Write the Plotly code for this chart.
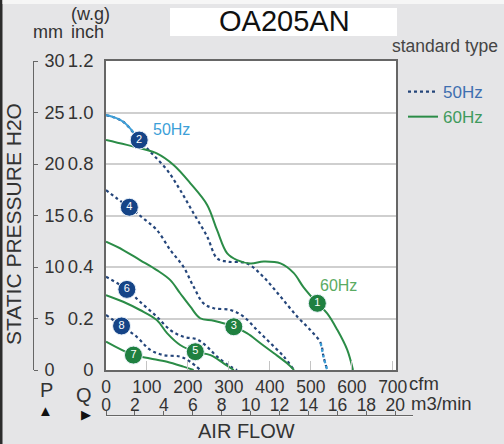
import plotly.graph_objects as go

W, H = 504, 444

# ---------------- data ----------------
cfm_ticks = [0, 100, 200, 300, 400, 500, 600, 700]
m3_ticks = [0, 2, 4, 6, 8, 10, 12, 14, 16, 18, 20]
inch_ticks = [0, 0.2, 0.4, 0.6, 0.8, 1.0, 1.2]
inch_labels = ["0", "0.2", "0.4", "0.6", "0.8", "1.0", "1.2"]
mm_ticks = [0, 5, 10, 15, 20, 25, 30]
CFM_PER_M3MIN = 35.3147

# 50Hz curves (cfm, inch w.g.)
c2_x = [0, 42, 81, 112, 149, 181, 214, 247, 271, 296, 344, 384, 426, 467, 499, 524, 531, 540]
c2_y = [0.99, 0.964, 0.893, 0.841, 0.777, 0.699, 0.608, 0.518, 0.434, 0.421, 0.414, 0.362, 0.285, 0.207, 0.155, 0.105, 0.052, 0]
c4_x = [0, 26, 57, 91, 124, 157, 189, 214, 238, 263, 304, 336, 369, 401, 434, 459]
c4_y = [0.699, 0.667, 0.632, 0.589, 0.544, 0.466, 0.401, 0.323, 0.259, 0.240, 0.233, 0.207, 0.155, 0.105, 0.052, 0]
c6_x = [0, 51, 83, 124, 157, 189, 222, 247, 271, 304, 320]
c6_y = [0.362, 0.313, 0.265, 0.207, 0.155, 0.129, 0.119, 0.090, 0.052, 0.013, 0]
c8_x = [0, 38, 75, 108, 140, 181, 206, 230]
c8_y = [0.214, 0.171, 0.129, 0.078, 0.058, 0.052, 0.032, 0]

# 60Hz curves
c1_x = [0, 83, 124, 165, 206, 247, 271, 296, 320, 353, 385, 426, 458, 482, 516, 540, 565, 589, 603]
c1_y = [0.893, 0.861, 0.841, 0.796, 0.725, 0.641, 0.544, 0.453, 0.427, 0.414, 0.421, 0.414, 0.377, 0.322, 0.259, 0.220, 0.155, 0.078, 0]
c3_x = [0, 42, 83, 124, 157, 181, 206, 230, 263, 312, 344, 377, 410, 442, 459]
c3_y = [0.498, 0.466, 0.427, 0.388, 0.349, 0.298, 0.246, 0.201, 0.191, 0.168, 0.143, 0.104, 0.065, 0.026, 0]
c5_x = [0, 42, 83, 124, 149, 181, 218, 255, 287, 312]
c5_y = [0.291, 0.265, 0.233, 0.194, 0.143, 0.097, 0.071, 0.058, 0.026, 0]
c7_x = [0, 67, 108, 149, 189, 214]
c7_y = [0.110, 0.058, 0.045, 0.032, 0.013, 0]

# numbered badges on the curves
badge_text = ["1", "2", "3", "4", "5", "6", "7", "8"]
badge_x = [516, 81, 312, 57, 218, 51, 67, 38]
badge_y = [0.259, 0.893, 0.168, 0.632, 0.071, 0.313, 0.058, 0.171]

# ---------------- styles ----------------
GREEN = "#2b8c47"
NAVY = "#24457a"
LBLUE = "#3d9fd8"
BADGE_GREEN = "#1f8040"
BADGE_NAVY = "#154487"
FONT = "Arial, 'Liberation Sans', sans-serif"
TXT = "#333333"
XMAX = 708


def fx(p):
    return p / W


def fy(p):
    return 1 - p / H


fig = go.Figure()

dot = dict(color=NAVY, width=2.2, dash="dot")
sol = dict(color=GREEN, width=2)

# 50Hz dotted curves
fig.add_trace(go.Scatter(x=c2_x, y=c2_y, mode="lines", line=dot, line_shape="spline",
                         name="<span style='color:#3f6fb0'>50Hz</span>", legendgroup="a",
                         showlegend=True, hoverinfo="skip"))
k0 = c2_x.index(81)
fig.add_trace(go.Scatter(x=c2_x[:k0 + 1], y=c2_y[:k0 + 1], mode="lines", line_shape="spline",
                         line=dict(color=LBLUE, width=2), showlegend=False, hoverinfo="skip"))
k1 = c2_x.index(524)
fig.add_trace(go.Scatter(x=c2_x[k1:], y=c2_y[k1:], mode="lines", line_shape="spline",
                         line=dict(color=LBLUE, width=2.2, dash="dot"), showlegend=False, hoverinfo="skip"))
for xs, ys in [(c4_x, c4_y), (c6_x, c6_y), (c8_x, c8_y)]:
    fig.add_trace(go.Scatter(x=xs, y=ys, mode="lines", line=dot, line_shape="spline",
                             showlegend=False, hoverinfo="skip"))

# 60Hz solid curves
fig.add_trace(go.Scatter(x=c1_x, y=c1_y, mode="lines", line=sol, line_shape="spline",
                         name="<span style='color:#3f9a5c'>60Hz</span>", legendgroup="b",
                         showlegend=True, hoverinfo="skip"))
for xs, ys in [(c3_x, c3_y), (c5_x, c5_y), (c7_x, c7_y)]:
    fig.add_trace(go.Scatter(x=xs, y=ys, mode="lines", line=sol, line_shape="spline",
                             showlegend=False, hoverinfo="skip"))

# badges
badge_col = [BADGE_GREEN if int(t) % 2 else BADGE_NAVY for t in badge_text]
fig.add_trace(go.Scatter(x=badge_x, y=badge_y, mode="markers+text", text=badge_text,
                         textposition="middle center",
                         textfont=dict(color="white", size=11, family=FONT),
                         marker=dict(size=18, color=badge_col, line=dict(color="#e8f0f8", width=1)),
                         showlegend=False, hoverinfo="skip"))

# helper traces for the extra axes
fig.add_trace(go.Scatter(x=[None], y=[None], xaxis="x", yaxis="y3", showlegend=False, hoverinfo="skip"))
fig.add_trace(go.Scatter(x=[None], y=[None], xaxis="x2", yaxis="y2", showlegend=False, hoverinfo="skip"))
fig.add_trace(go.Scatter(x=[None], y=[None], xaxis="x3", yaxis="y", showlegend=False, hoverinfo="skip"))
fig.add_trace(go.Scatter(x=[None], y=[None], xaxis="x4", yaxis="y4", showlegend=False, hoverinfo="skip"))

x_dom = [fx(106), fx(396)]
y_dom = [fy(370), fy(61)]
x2_end = 413
x2_max = XMAX / CFM_PER_M3MIN * (x2_end - 106) / (396 - 106)
M3_LINE_Y = 416
M3_LABEL_Y = 415

fig.update_layout(
    width=W, height=H, margin=dict(l=0, r=0, t=0, b=0, pad=0, autoexpand=False),
    paper_bgcolor="#e5e5e7", plot_bgcolor="white",
    font=dict(family=FONT, color=TXT),
    xaxis=dict(domain=x_dom, range=[0, XMAX], tickvals=cfm_ticks, ticks="", ticklen=0,
               tickfont=dict(size=17.5, color=TXT), showgrid=False, zeroline=False,
               showline=True, linecolor="#666", linewidth=1.6, mirror=True,
               ticklabelstandoff=0, fixedrange=True, automargin=False),
    # faint inner tick marks along the bottom of the plot
    xaxis3=dict(overlaying="x", anchor="y", side="bottom", range=[0, XMAX], tickvals=cfm_ticks,
                ticks="inside", ticklen=9, tickcolor="#c4c4c4", tickwidth=1,
                showticklabels=False, showgrid=False, zeroline=False, showline=False,
                fixedrange=True, automargin=False),
    yaxis=dict(domain=y_dom, range=[0, 1.2], tickvals=inch_ticks, ticktext=inch_labels,
               ticks="", tickfont=dict(size=18.5, color=TXT), showgrid=True,
               gridcolor="#cfcfcf", gridwidth=1.5, zeroline=False,
               showline=True, linecolor="#666", linewidth=1.6, mirror=True,
               ticklabelstandoff=7, fixedrange=True, automargin=False),
    yaxis3=dict(overlaying="y", anchor="free", position=fx(33), side="right",
                range=[0, 30], tickvals=mm_ticks, ticks="outside", ticklen=4,
                tickcolor="#666", showline=True, linecolor="#666", linewidth=1,
                showgrid=False, zeroline=False, tickfont=dict(size=18, color=TXT),
                ticklabelstandoff=3, fixedrange=True, automargin=False),
    # m3/min scale: line + upward ticks
    xaxis2=dict(domain=[fx(106), fx(x2_end)], anchor="y2", side="top",
                range=[0, x2_max], tickvals=m3_ticks, ticks="outside", ticklen=4,
                tickcolor="#666", showline=True, linecolor="#666", linewidth=1,
                showticklabels=False, showgrid=False, zeroline=False,
                fixedrange=True, automargin=False),
    yaxis2=dict(domain=[fy(M3_LINE_Y + 0.5), fy(M3_LINE_Y)], visible=False, range=[0, 1], fixedrange=True),
    # m3/min scale: labels
    xaxis4=dict(domain=[fx(106), fx(x2_end)], anchor="y4", side="top",
                range=[0, x2_max], tickvals=m3_ticks, ticks="", ticklen=0,
                showline=False, showgrid=False, zeroline=False,
                tickfont=dict(size=17.5, color=TXT), ticklabelstandoff=0,
                fixedrange=True, automargin=False),
    yaxis4=dict(domain=[fy(M3_LABEL_Y + 0.5), fy(M3_LABEL_Y)], visible=False, range=[0, 1], fixedrange=True),
    legend=dict(x=fx(403), y=fy(74), xanchor="left", yanchor="top",
                bgcolor="rgba(0,0,0,0)", font=dict(size=17, family=FONT),
                itemwidth=30, tracegroupgap=0, traceorder="grouped"),
    showlegend=True,
)

shapes = [
    dict(type="rect", xref="paper", yref="paper", x0=fx(0), x1=fx(2.5), y0=0, y1=1,
         fillcolor="#2c2c2c", line=dict(width=0), layer="below"),
    dict(type="rect", xref="paper", yref="paper", x0=fx(2.5), x1=1, y0=fy(4), y1=1,
         fillcolor="#f6f6f6", line=dict(width=0), layer="below"),
    dict(type="rect", xref="paper", yref="paper", x0=fx(170), x1=fx(397), y0=fy(36), y1=fy(8),
         fillcolor="white", line=dict(width=0), layer="below"),
]
fig.update_layout(shapes=shapes)


def ann(text, x, y, size, color=TXT, xa="center", ya="middle", angle=0):
    fig.add_annotation(text=text, x=fx(x), y=fy(y), xref="paper", yref="paper",
                       xanchor=xa, yanchor=ya, showarrow=False, textangle=angle,
                       font=dict(size=size, color=color, family=FONT))


ann("OA205AN", 284, 21, 29, color="#111111")
ann("standard type", 500, 46, 17.5, color="#444444", xa="right")
ann("(w.g)", 90, 14, 18)
ann("mm", 48, 32, 18)
ann("inch", 87, 32, 18)
ann("STATIC PRESSURE H2O", 14, 224, 21, angle=-90)
ann("P", 46, 390, 20)
ann("▲", 45, 410, 15, color="#111111")
ann("Q", 84, 395, 20)
ann("▶", 86, 414, 13, color="#111111")
ann("cfm", 407, 383, 18.5, xa="left")
ann("m3/min", 409, 403, 18.5, xa="left")
ann("AIR FLOW", 246, 431, 20)
ann("50Hz", 171, 129, 16, color=LBLUE)
ann("60Hz", 338, 285, 16, color="#5aab62")

fig.write_html(
    "out.html",
    config={"displayModeBar": False},
    post_script="document.body.style.margin='0';document.body.style.overflow='hidden';",
)
